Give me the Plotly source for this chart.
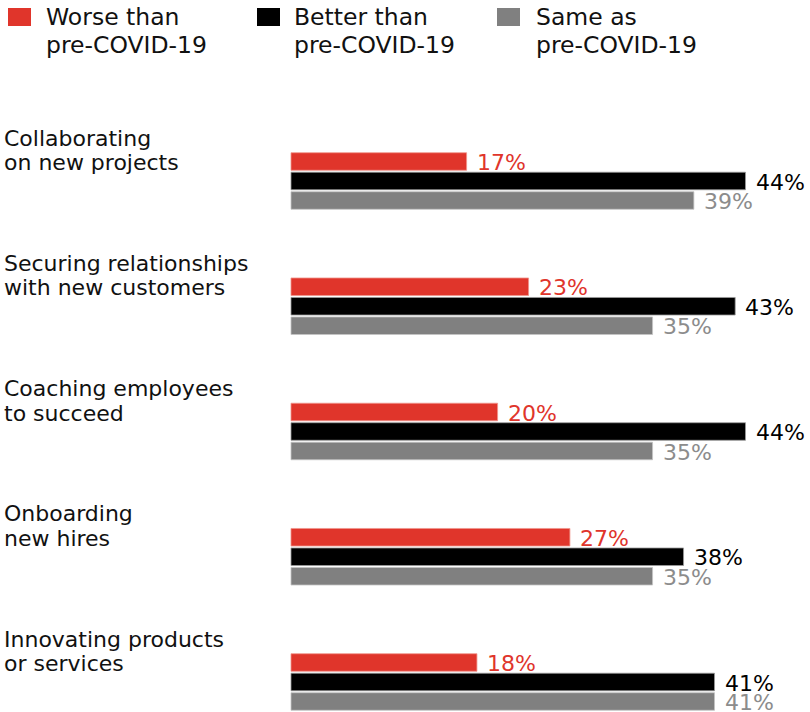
import plotly.graph_objects as go

# ---------------- data ----------------
categories = [
    "Collaborating<br>on new projects",
    "Securing relationships<br>with new customers",
    "Coaching employees<br>to succeed",
    "Onboarding<br>new hires",
    "Innovating products<br>or services",
]
series_names = [
    "Worse than<br>pre-COVID-19",
    "Better than<br>pre-COVID-19",
    "Same as<br>pre-COVID-19",
]
worse = [17, 23, 20, 27, 18]
better = [44, 43, 44, 38, 41]
same = [39, 35, 35, 35, 41]

# ---------------- styles ----------------
W, H = 810, 712
FONT = "DejaVu Sans"
bar_colors = ["#e0352b", "#000000", "#808080"]
edge_colors = ["#f0948b", "#9a9a9a", "#c4c4c4"]
label_colors = ["#e0352b", "#000000", "#8c8c8c"]

PX_PER_UNIT = 10.33   # pixels per percentage point
X0 = 291              # pixel where bars start
ROW = 125.25          # pixel pitch between categories
Y0 = 181              # pixel of first category centre
BAR_PITCH = 19.5

x_range = [-X0 / PX_PER_UNIT, (W - X0) / PX_PER_UNIT]
y_range = [(H - Y0) / ROW, -Y0 / ROW]

ypos = list(range(len(categories)))
series_values = [worse, better, same]

fig = go.Figure()
for name, vals, col, ecol in zip(series_names, series_values, bar_colors, edge_colors):
    fig.add_trace(go.Bar(
        y=ypos, x=vals, orientation="h", name=name.replace("<br>", " "),
        marker=dict(color=col, line=dict(color=ecol, width=0.8)),
        hoverinfo="skip", cliponaxis=False,
    ))

annotations = []
# value labels
for k, (vals, col) in enumerate(zip(series_values, label_colors)):
    for i, v in enumerate(vals):
        annotations.append(dict(
            x=v, y=i, xref="x", yref="y", text=f"{v}%", showarrow=False,
            xanchor="left", yanchor="middle", xshift=9,
            yshift=(1 - k) * BAR_PITCH - 1,
            font=dict(family=FONT, size=22, color=col), borderpad=0,
        ))

# category labels (two lines each)
for i, cat in enumerate(categories):
    for j, line in enumerate(cat.split("<br>")):
        annotations.append(dict(
            x=3 / W, y=i, xref="paper", yref="y", text=line, showarrow=False,
            xanchor="left", yanchor="middle", yshift=43 - 24.5 * j,
            font=dict(family=FONT, size=22, color="#111111"), borderpad=0,
        ))

# legend
shapes = []
legend_sq_x = [8, 257, 497]
legend_txt_x = [45, 293, 535]
for name, col, sx, tx in zip(series_names, bar_colors, legend_sq_x, legend_txt_x):
    shapes.append(dict(
        type="rect", xref="paper", yref="paper",
        x0=sx / W, x1=(sx + 23) / W, y0=1 - 26 / H, y1=1 - 8 / H,
        fillcolor=col, line=dict(width=0),
    ))
    for j, line in enumerate(name.split("<br>")):
        annotations.append(dict(
            x=tx / W, y=1 - (16.5 + 28.5 * j) / H, xref="paper", yref="paper",
            text=line, showarrow=False, xanchor="left", yanchor="middle",
            font=dict(family=FONT, size=23.5, color="#111111"), borderpad=0,
        ))

fig.update_layout(
    width=W, height=H,
    margin=dict(l=0, r=0, t=0, b=0),
    paper_bgcolor="white", plot_bgcolor="white",
    barmode="group", bargap=0.533, bargroupgap=0.1,
    showlegend=False,
    xaxis=dict(range=x_range, visible=False, fixedrange=True),
    yaxis=dict(range=y_range, visible=False, fixedrange=True),
    annotations=annotations, shapes=shapes,
)

fig.write_html(
    "out.html",
    config={"displayModeBar": False},
    post_script="document.body.style.margin='0';document.body.style.overflow='hidden';",
)
